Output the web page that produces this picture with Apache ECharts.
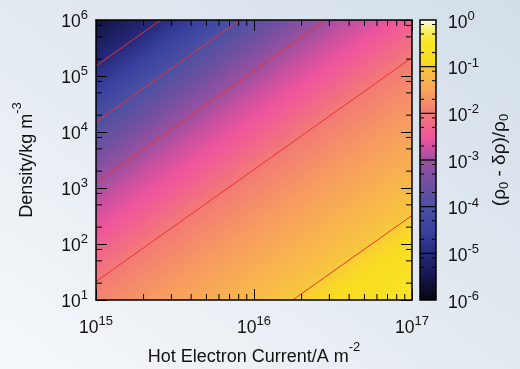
<!DOCTYPE html>
<html>
<head>
<meta charset="utf-8">
<script src="https://cdn.jsdelivr.net/npm/echarts@6/dist/echarts.min.js"></script>
<style>
  html, body { margin: 0; padding: 0; }
  body { background: linear-gradient(to top right, #f5f8fb 0%, #e3eaf1 50%, #d3dee9 100%); }
  #chart { width: 520px; height: 369px; }
</style>
</head>
<body>
<div id="chart"></div>
<script>
// axis ranges, as powers of ten
const xExp = [15, 17]
const yExp = [1, 6]
const cbExp = [-6, 0]
const xMinorSteps = [2, 3, 4, 5, 6, 7, 8, 9]
const yMinorSteps = [2, 5, 8]
const cbMinorSteps = [2, 5, 8]

// the field only depends on the offset c = log10(density) - slope * (log10(current) - 15)
const slope = 2
const profileOffset = [6.0, 5.18, 4.18, 3.09, 2.2, 1.33, 0.4, -0.3, -1.49, -2.3, -3.0]
const profileLogF = [-5.6, -5, -4, -3, -2.5, -2, -1.65, -1.42, -1, -0.8, -0.55]

// red contour lines (log10 of the ratio) and their offsets
const contourLevels = [-5, -4, -3, -2, -1]
const contourOffsets = [5.18, 4.18, 3.09, 1.33, -1.49]

// colour bar palette
const cmapStops = [0, -0.2, -0.45, -0.9, -1.05, -1.5, -2, -2.5, -2.8, -3, -3.5, -4, -4.5, -5, -5.5, -6]
const cmapColors = ['#fffff4', '#f8f078', '#f8e828', '#f8dc22', '#f8c440', '#f8a45a', '#f27a76', '#f0559c',
  '#c450a0', '#9c50a0', '#7050a0', '#4c50a2', '#3a42a0', '#262a7c', '#15164a', '#06060c']

const font = "'Liberation Sans', Arial, Helvetica, sans-serif"
const ink = '#111'

const pow = (e) => Math.pow(10, e)
const expOf = (v) => Math.round(Math.log10(v))

const cmap = (v) => {
  for (let i = 0; i < cmapStops.length - 1; i++) {
    if (v <= cmapStops[i] && v >= cmapStops[i + 1]) {
      const t = (cmapStops[i] - v) / (cmapStops[i] - cmapStops[i + 1])
      return echarts.color.lerp(t, [cmapColors[i], cmapColors[i + 1]])
    }
  }
  return v > 0 ? cmapColors[0] : cmapColors[cmapColors.length - 1]
}

const logFAt = (c) => {
  for (let i = 0; i < profileOffset.length - 1; i++) {
    if (c <= profileOffset[i] && c >= profileOffset[i + 1]) {
      const t = (profileOffset[i] - c) / (profileOffset[i] - profileOffset[i + 1])
      return profileLogF[i] + t * (profileLogF[i + 1] - profileLogF[i])
    }
  }
  return c > profileOffset[0] ? profileLogF[0] : profileLogF[profileLogF.length - 1]
}

// superscripts are raised with bottom padding
const labelRich = {
  b: { fontSize: 17.5, lineHeight: 20, fontFamily: font, color: ink },
  s: { fontSize: 13, lineHeight: 20, padding: [0, 0, 13, 0], fontFamily: font, color: ink }
}
const titleRich = {
  b: { fontSize: 18, lineHeight: 22, fontFamily: font, color: ink },
  s: { fontSize: 13, lineHeight: 22, padding: [0, 0, 20, 0], fontFamily: font, color: ink }
}
const supLabel = (v) => '{b|10}{s|' + expOf(v) + '}'

const frame = { show: true, lineStyle: { color: '#000', width: 1.5 } }
const majorTick = { show: true, inside: true, length: 11, lineStyle: { color: '#000', width: 1 } }
const tickStyle = { stroke: '#000', lineWidth: 1 }

// contour segments clipped to the plot
const contourData = contourOffsets.map((c) => {
  const lo = Math.max(xExp[0], xExp[0] + (yExp[0] - c) / slope)
  const hi = Math.min(xExp[1], xExp[0] + (yExp[1] - c) / slope)
  return [lo, hi].map((lx) => [pow(lx), pow(c + slope * (lx - xExp[0]))])
})

const xMinor = []
for (let d = xExp[0]; d < xExp[1]; d++) xMinorSteps.forEach((k) => xMinor.push([k * pow(d), pow(yExp[0])]))
const yMinor = []
for (let d = yExp[0]; d < yExp[1]; d++) yMinorSteps.forEach((k) => yMinor.push([pow(xExp[0]), k * pow(d)]))
const cbMinor = []
for (let d = cbExp[0]; d < cbExp[1]; d++) cbMinorSteps.forEach((k) => cbMinor.push([0, k * pow(d)]))
const cbDecades = []
for (let d = cbExp[0] + 1; d < cbExp[1]; d++) cbDecades.push([0, pow(d)])

const chart = echarts.init(document.getElementById('chart'))

chart.setOption({
  animation: false,
  backgroundColor: 'transparent',
  textStyle: { fontFamily: font },
  grid: [
    { left: 96, top: 20, width: 316, height: 280, outerBoundsMode: 'none' },
    { left: 420, top: 20, width: 16, height: 280, outerBoundsMode: 'none' }
  ],
  xAxis: [
    {
      type: 'log', gridIndex: 0, min: pow(xExp[0]), max: pow(xExp[1]), splitNumber: 2, z: 5,
      axisLine: frame, axisTick: majorTick, splitLine: { show: false }, minorTick: { show: false },
      axisLabel: { formatter: supLabel, rich: labelRich, margin: 18 },
      name: '{b|Hot Electron Current/A m}{s|-2}', nameLocation: 'middle', nameGap: 46, nameMoveOverlap: false,
      nameTextStyle: { rich: titleRich }
    },
    {
      type: 'log', gridIndex: 0, position: 'top', min: pow(xExp[0]), max: pow(xExp[1]), splitNumber: 2, z: 5,
      axisLine: frame, axisTick: majorTick, splitLine: { show: false }, axisLabel: { show: false }
    },
    { type: 'value', gridIndex: 1, min: 0, max: 1, show: false }
  ],
  yAxis: [
    {
      type: 'log', gridIndex: 0, min: pow(yExp[0]), max: pow(yExp[1]), splitNumber: 5, z: 5,
      axisLine: frame, axisTick: majorTick, splitLine: { show: false },
      axisLabel: { formatter: supLabel, rich: labelRich, margin: 8, padding: [4, 0, 0, 0] },
      name: '{b|Density/kg m}{s|-3}', nameLocation: 'middle', nameGap: 58, nameMoveOverlap: false,
      nameTextStyle: { rich: titleRich }
    },
    {
      type: 'log', gridIndex: 0, position: 'right', min: pow(yExp[0]), max: pow(yExp[1]), splitNumber: 5, z: 5,
      axisLine: frame, axisTick: majorTick, splitLine: { show: false }, axisLabel: { show: false }
    },
    {
      type: 'log', gridIndex: 1, position: 'right', min: pow(cbExp[0]), max: pow(cbExp[1]), splitNumber: 6, z: 5,
      axisLine: { show: false }, axisTick: { show: false }, splitLine: { show: false },
      axisLabel: { formatter: supLabel, rich: labelRich, margin: 12, padding: [6, 0, 0, 0] },
      name: '{b|(\u03c1}{d|0}{b| - \u03b4\u03c1)/\u03c1}{d|0}', nameLocation: 'middle', nameGap: 53, nameMoveOverlap: false,
      nameTextStyle: {
        rich: {
          b: { fontSize: 19, lineHeight: 22, fontFamily: font, color: ink },
          d: { fontSize: 13, lineHeight: 22, padding: [8, 0, 0, 0], fontFamily: font, color: ink }
        }
      }
    }
  ],
  series: [
    {
      // smooth field: one gradient running across the constant-offset lines
      type: 'custom', xAxisIndex: 0, yAxisIndex: 0, z: 1,
      data: [[pow(xExp[0]), pow(yExp[1])]],
      renderItem: (params, api) => {
        const tl = api.coord([pow(xExp[0]), pow(yExp[1])])
        const br = api.coord([pow(xExp[1]), pow(yExp[0])])
        const sx = (br[0] - tl[0]) / (xExp[1] - xExp[0])
        const sy = (br[1] - tl[1]) / (yExp[1] - yExp[0])
        let nx = slope * sy, ny = sx
        const len = Math.hypot(nx, ny)
        nx /= len; ny /= len
        const L = (br[0] - tl[0]) * nx + (br[1] - tl[1]) * ny
        const cTop = yExp[1]
        const cBot = yExp[0] - slope * (xExp[1] - xExp[0])
        const stops = []
        const n = 160
        for (let i = 0; i <= n; i++) {
          const c = cTop + (cBot - cTop) * i / n
          stops.push({ offset: i / n, color: cmap(logFAt(c)) })
        }
        return {
          type: 'rect',
          shape: { x: tl[0], y: tl[1], width: br[0] - tl[0], height: br[1] - tl[1] },
          style: { fill: new echarts.graphic.LinearGradient(tl[0], tl[1], tl[0] + nx * L, tl[1] + ny * L, stops, true) }
        }
      }
    },
    ...contourData.map((d, i) => ({
      type: 'line', name: 'contour ' + contourLevels[i], xAxisIndex: 0, yAxisIndex: 0, z: 3,
      data: d, symbol: 'none', clip: true, silent: true,
      lineStyle: { color: '#ee3030', width: 1 }
    })),
    {
      type: 'custom', xAxisIndex: 0, yAxisIndex: 0, z: 4, data: xMinor,
      renderItem: (params, api) => {
        const b = api.coord([api.value(0), pow(yExp[0])])
        const t = api.coord([api.value(0), pow(yExp[1])])
        return {
          type: 'group', children: [
            { type: 'line', shape: { x1: b[0], y1: b[1], x2: b[0], y2: b[1] - 6 }, style: tickStyle },
            { type: 'line', shape: { x1: t[0], y1: t[1], x2: t[0], y2: t[1] + 6 }, style: tickStyle }
          ]
        }
      }
    },
    {
      type: 'custom', xAxisIndex: 0, yAxisIndex: 0, z: 4, data: yMinor,
      renderItem: (params, api) => {
        const l = api.coord([pow(xExp[0]), api.value(1)])
        const r = api.coord([pow(xExp[1]), api.value(1)])
        return {
          type: 'group', children: [
            { type: 'line', shape: { x1: l[0], y1: l[1], x2: l[0] + 6, y2: l[1] }, style: tickStyle },
            { type: 'line', shape: { x1: r[0], y1: r[1], x2: r[0] - 6, y2: r[1] }, style: tickStyle }
          ]
        }
      }
    },
    {
      // colour bar
      type: 'custom', xAxisIndex: 2, yAxisIndex: 2, z: 1,
      data: [[0, pow(cbExp[1])]],
      renderItem: (params, api) => {
        const t = api.coord([0, pow(cbExp[1])])
        const b = api.coord([1, pow(cbExp[0])])
        const span = cbExp[1] - cbExp[0]
        const stops = cmapStops.map((v, i) => ({ offset: (cbExp[1] - v) / span, color: cmapColors[i] }))
        return {
          type: 'rect',
          shape: { x: t[0], y: t[1], width: b[0] - t[0], height: b[1] - t[1] },
          style: { fill: new echarts.graphic.LinearGradient(0, 0, 0, 1, stops), stroke: '#000', lineWidth: 1.5 }
        }
      }
    },
    {
      type: 'custom', xAxisIndex: 2, yAxisIndex: 2, z: 4, data: cbDecades,
      renderItem: (params, api) => {
        const l = api.coord([0, api.value(1)])
        const r = api.coord([1, api.value(1)])
        return { type: 'line', shape: { x1: l[0], y1: l[1], x2: r[0], y2: r[1] }, style: { stroke: '#000', lineWidth: 1.2 } }
      }
    },
    {
      type: 'custom', xAxisIndex: 2, yAxisIndex: 2, z: 4, data: cbMinor,
      renderItem: (params, api) => {
        const l = api.coord([0, api.value(1)])
        const r = api.coord([1, api.value(1)])
        return {
          type: 'group', children: [
            { type: 'line', shape: { x1: l[0], y1: l[1], x2: l[0] + 4, y2: l[1] }, style: tickStyle },
            { type: 'line', shape: { x1: r[0], y1: r[1], x2: r[0] - 4, y2: r[1] }, style: tickStyle }
          ]
        }
      }
    }
  ]
})
</script>
</body>
</html>
